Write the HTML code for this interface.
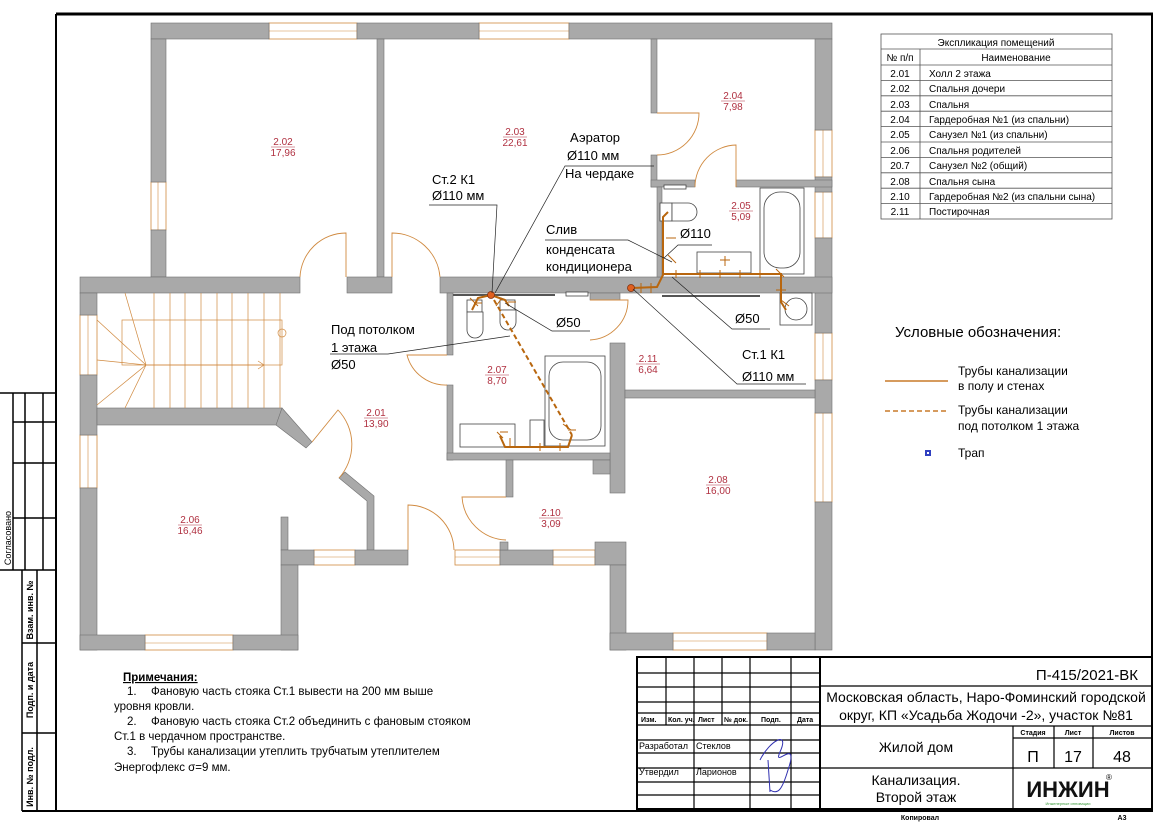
<!DOCTYPE html>
<html><head><meta charset="utf-8"><style>
html,body{margin:0;padding:0;background:#fff;}
svg{display:block;font-family:"Liberation Sans","Noto Sans CJK SC",sans-serif;}
.w{fill:#a9a9a9;stroke:#707070;stroke-width:0.6}
.win{fill:#fff;stroke:#d08a40;stroke-width:0.8}
.p{stroke:#b8660e;stroke-width:2;fill:none}
.pd{stroke:#b8660e;stroke-width:2;fill:none;stroke-dasharray:5,3}
.o{stroke:#d08a40;stroke-width:0.9;fill:none}
.fx{stroke:#444;stroke-width:0.8;fill:#fff}
.ld{stroke:#222;stroke-width:0.7;fill:none}
.r{fill:#b03040;font-size:10px;text-anchor:middle}
.a{font-size:13px;fill:#000}
.t{font-size:10px;fill:#000}
.b{stroke:#000;fill:none}
</style></head><body>
<svg width="1166" height="824" viewBox="0 0 1166 824" xmlns="http://www.w3.org/2000/svg">
<line x1="56" y1="14" x2="1153" y2="14" stroke="#000" stroke-width="3"/>
<line x1="56" y1="14" x2="56" y2="812" stroke="#000" stroke-width="2"/>
<line x1="1152" y1="14" x2="1152" y2="812" stroke="#000" stroke-width="2"/>
<line x1="22" y1="811" x2="1153" y2="811" stroke="#000" stroke-width="2"/>
<g class="b" stroke-width="1.5">
<line x1="0" y1="393" x2="56" y2="393"/>
<line x1="13" y1="393" x2="13" y2="570"/>
<line x1="25" y1="393" x2="25" y2="570"/>
<line x1="43" y1="393" x2="43" y2="570"/>
<line x1="13" y1="422" x2="56" y2="422"/>
<line x1="13" y1="463" x2="56" y2="463"/>
<line x1="13" y1="518" x2="56" y2="518"/>
<line x1="0" y1="570" x2="56" y2="570"/>
<line x1="22" y1="570" x2="22" y2="811"/>
<line x1="37" y1="570" x2="37" y2="811"/>
<line x1="22" y1="643" x2="56" y2="643"/>
<line x1="22" y1="733" x2="56" y2="733"/>
</g>
<text transform="translate(11,538) rotate(-90)" font-size="9" text-anchor="middle">Согласовано</text>
<text transform="translate(33,610) rotate(-90)" font-size="9" text-anchor="middle" font-weight="bold">Взам. инв. №</text>
<text transform="translate(33,690) rotate(-90)" font-size="9" text-anchor="middle" font-weight="bold">Подп. и дата</text>
<text transform="translate(33,777) rotate(-90)" font-size="9" text-anchor="middle" font-weight="bold">Инв. № подл.</text>

<g class="win">
<rect x="269" y="23" width="88" height="16"/><rect x="479" y="23" width="90" height="16"/>
<rect x="815" y="130" width="17" height="47"/><rect x="815" y="192" width="17" height="46"/>
<rect x="815" y="333" width="17" height="47"/><rect x="815" y="413" width="17" height="89"/>
<rect x="151" y="182" width="15" height="48"/>
<rect x="80" y="315" width="17" height="60"/><rect x="80" y="435" width="17" height="53"/>
<rect x="145" y="635" width="88" height="15"/><rect x="314" y="550" width="41" height="15"/>
<rect x="455" y="550" width="45" height="15"/><rect x="553" y="550" width="42" height="15"/>
<rect x="673" y="633" width="94" height="17"/>
</g>
<g stroke="#d08a40" stroke-width="0.6">
<line x1="269" y1="31" x2="357" y2="31"/><line x1="479" y1="31" x2="569" y2="31"/>
<line x1="145" y1="643" x2="233" y2="643"/><line x1="673" y1="641" x2="767" y2="641"/>
<line x1="823" y1="413" x2="823" y2="502"/><line x1="823" y1="333" x2="823" y2="380"/>
<line x1="823" y1="130" x2="823" y2="177"/><line x1="823" y1="192" x2="823" y2="238"/>
<line x1="88" y1="315" x2="88" y2="375"/><line x1="88" y1="435" x2="88" y2="488"/>
<line x1="158" y1="182" x2="158" y2="230"/>
<line x1="455" y1="557" x2="500" y2="557"/><line x1="553" y1="557" x2="595" y2="557"/><line x1="314" y1="557" x2="355" y2="557"/>
</g>

<g class="w">
<rect x="151" y="23" width="118" height="16"/><rect x="357" y="23" width="122" height="16"/><rect x="569" y="23" width="263" height="16"/>
<rect x="815" y="39" width="17" height="91"/><rect x="815" y="177" width="17" height="15"/><rect x="815" y="238" width="17" height="95"/>
<rect x="815" y="380" width="17" height="33"/><rect x="815" y="502" width="17" height="148"/>
<rect x="151" y="39" width="15" height="143"/><rect x="151" y="230" width="15" height="47"/>
<rect x="377" y="39" width="7" height="238"/>
<rect x="80" y="277" width="220" height="16"/><rect x="347" y="277" width="45" height="16"/><rect x="440" y="277" width="392" height="16"/>
<rect x="651" y="39" width="6" height="74"/><rect x="651" y="155" width="6" height="32"/>
<rect x="651" y="180" width="44" height="7"/><rect x="736" y="180" width="96" height="7"/>
<rect x="657" y="187" width="5" height="90"/>
<rect x="80" y="293" width="17" height="22"/><rect x="80" y="375" width="17" height="60"/><rect x="80" y="488" width="17" height="162"/>
<rect x="97" y="408" width="185" height="17"/>
<polygon points="282,408 312,442 306,448 276,425"/>
<polygon points="339,478 345,472 374,496 374,550 367,550 367,501"/>
<rect x="355" y="550" width="53" height="15"/>
<rect x="281" y="517" width="7" height="33"/><rect x="281" y="550" width="33" height="15"/><rect x="281" y="565" width="17" height="85"/>
<rect x="80" y="635" width="65" height="15"/><rect x="233" y="635" width="65" height="15"/>
<rect x="500" y="550" width="53" height="15"/><rect x="500" y="542" width="8" height="8"/>
<rect x="595" y="542" width="31" height="23"/><rect x="610" y="565" width="16" height="85"/>
<rect x="610" y="633" width="63" height="17"/><rect x="767" y="633" width="48" height="17"/>
<rect x="610" y="343" width="15" height="150"/><rect x="625" y="390" width="190" height="8"/>
<rect x="447" y="293" width="6" height="62"/><rect x="447" y="385" width="6" height="75"/>
<rect x="447" y="453" width="163" height="7"/><rect x="506" y="460" width="7" height="37"/>
<rect x="593" y="460" width="17" height="14"/>
<rect x="590" y="293" width="30" height="7"/>
</g>

<g class="o">
<path d="M346,277 L346,233 A46,46 0 0 0 300,277"/>
<path d="M392,277 L392,233 A48,48 0 0 1 440,277"/>
<path d="M657,113 L699,113 A42,42 0 0 1 657,155"/>
<path d="M736,187 L736,145 A42,42 0 0 0 695,187"/>
<path d="M447,355 L407,355 A40,40 0 0 0 447,385"/>
<path d="M590,300 L628,300 A40,40 0 0 1 590,340"/>
<path d="M312,442 L338,410 A50,50 0 0 1 339,478"/>
<path d="M408,550 L408,505 A46,46 0 0 1 454,550"/>
<path d="M506,497 L462,497 A46,46 0 0 0 506,540"/>
</g>

<g stroke="#d08a40" stroke-width="0.7" fill="none">
<rect x="122" y="320" width="160" height="45"/>
<line x1="97" y1="320" x2="146" y2="365"/><line x1="97" y1="405" x2="146" y2="365"/><line x1="97" y1="360" x2="146" y2="365"/>
<line x1="125" y1="293" x2="146" y2="365"/><line x1="125" y1="408" x2="146" y2="365"/>
<path d="M154,293V408M170,293V408M185,293V408M201,293V408M217,293V408M232,293V408M248,293V408M264,293V408M280,293V408"/>
<circle cx="282" cy="333" r="4"/><line x1="146" y1="365" x2="263" y2="365"/><path d="M258,361 L264,365 L258,369"/>
</g>

<g class="fx">
<rect x="467" y="300" width="15" height="12"/><path d="M467,312 L467,330 A8,8 0 0 0 483,330 L483,312 Z"/>
<rect x="500" y="300" width="15" height="10"/><path d="M500,310 L500,322 A8,8 0 0 0 516,322 L516,310 Z"/>
<rect x="545" y="356" width="60" height="90"/><rect x="549" y="362" width="52" height="78" rx="14"/>
<rect x="460" y="424" width="55" height="23"/><rect x="530" y="420" width="14" height="27"/>
<rect x="760" y="188" width="44" height="86"/><rect x="764" y="192" width="36" height="76" rx="16"/>
<rect x="697" y="252" width="54" height="21"/>
<rect x="660" y="203" width="12" height="18"/><path d="M672,203 L688,203 A9,9 0 0 1 688,221 L672,221 Z"/>
<rect x="780" y="293" width="32" height="32"/><circle cx="796" cy="309" r="11"/>
<rect x="664" y="185" width="22" height="4"/><rect x="566" y="292" width="22" height="4"/>
</g>
<line x1="453" y1="295" x2="555" y2="295" stroke="#555" stroke-width="2"/>
<line x1="662" y1="296" x2="760" y2="296" stroke="#555" stroke-width="2"/>

<g class="p">
<path d="M631,288 L657,287 L663,275 L663,217 L668,212"/>
<path d="M663,274 L781,274 L781,302 L786,310"/>
<path d="M491,295 L478,298 L472,310"/><path d="M491,295 L505,300 L509,306"/>
<path d="M500,436 L505,447 L568,447 L572,435"/>
</g>
<path class="pd" d="M494,300 L572,435"/>
<g stroke="#b8660e" stroke-width="1" fill="none">
<path d="M641,283v10M651,283v10M666,238h10M668,255l8,8M676,270v8M700,270v8M720,270v8M740,270v8M760,270v8M776,269l8,8M776,290h10M781,300l8,6M720,260h10M725,256v10"/>
<path d="M470,298l8,8M474,303h8M502,298l-6,8M508,302h8M563,424l8,6M568,430h8M510,438v10M540,443v8M560,443v8M497,432l6,6M500,432h8"/>
</g>
<circle cx="491" cy="295" r="3.5" fill="#e06020" stroke="#803010" stroke-width="0.8"/>
<circle cx="631" cy="288" r="3.5" fill="#e06020" stroke="#803010" stroke-width="0.8"/>

<g class="r">
<text x="283" y="145">2.02</text><text x="283" y="156">17,96</text><line x1="271" y1="147" x2="295" y2="147" stroke="#b03040" stroke-width="0.6"/>
<text x="515" y="135">2.03</text><text x="515" y="146">22,61</text><line x1="503" y1="137" x2="527" y2="137" stroke="#b03040" stroke-width="0.6"/>
<text x="733" y="99">2.04</text><text x="733" y="110">7,98</text><line x1="721" y1="101" x2="745" y2="101" stroke="#b03040" stroke-width="0.6"/>
<text x="741" y="209">2.05</text><text x="741" y="220">5,09</text><line x1="729" y1="211" x2="753" y2="211" stroke="#b03040" stroke-width="0.6"/>
<text x="497" y="373">2.07</text><text x="497" y="384">8,70</text><line x1="485" y1="375" x2="509" y2="375" stroke="#b03040" stroke-width="0.6"/>
<text x="648" y="362">2.11</text><text x="648" y="373">6,64</text><line x1="636" y1="364" x2="660" y2="364" stroke="#b03040" stroke-width="0.6"/>
<text x="376" y="416">2.01</text><text x="376" y="427">13,90</text><line x1="364" y1="418" x2="388" y2="418" stroke="#b03040" stroke-width="0.6"/>
<text x="190" y="523">2.06</text><text x="190" y="534">16,46</text><line x1="178" y1="525" x2="202" y2="525" stroke="#b03040" stroke-width="0.6"/>
<text x="551" y="516">2.10</text><text x="551" y="527">3,09</text><line x1="539" y1="518" x2="563" y2="518" stroke="#b03040" stroke-width="0.6"/>
<text x="718" y="483">2.08</text><text x="718" y="494">16,00</text><line x1="706" y1="485" x2="730" y2="485" stroke="#b03040" stroke-width="0.6"/>
</g>

<g class="a">
<text x="570" y="142">Аэратор</text><text x="567" y="160">Ø110 мм</text><text x="565" y="178">На чердаке</text>
<text x="432" y="184">Ст.2  К1</text><text x="432" y="200">Ø110 мм</text>
<text x="546" y="234">Слив</text><text x="546" y="254">конденсата</text><text x="546" y="271">кондиционера</text>
<text x="680" y="238">Ø110</text>
<text x="556" y="327">Ø50</text><text x="735" y="323">Ø50</text>
<text x="331" y="334">Под потолком</text><text x="331" y="352">1 этажа</text><text x="331" y="369">Ø50</text>
<text x="742" y="359">Ст.1   К1</text><text x="742" y="381">Ø110 мм</text>
</g>
<g class="ld">
<path d="M654,166 L565,166 L495,293"/>
<path d="M429,205 L497,205 L492,293"/>
<path d="M545,240 L628,240 L672,262"/>
<path d="M712,245 L678,245 L664,258"/>
<path d="M590,331 L552,331 L505,303"/>
<path d="M770,329 L732,329 L672,277"/>
<path d="M330,354 L388,354 L510,336"/>
<path d="M806,384 L737,384 L633,289"/>
</g>

<g stroke="#555" stroke-width="0.8" fill="none">
<rect x="881" y="34" width="231" height="185"/>
<line x1="881" y1="49" x2="1112" y2="49"/><line x1="881" y1="65" x2="1112" y2="65"/>
<path d="M881,80.4H1112M881,95.8H1112M881,111.2H1112M881,126.6H1112M881,142H1112M881,157.4H1112M881,172.8H1112M881,188.2H1112M881,203.6H1112"/>
<line x1="920" y1="49" x2="920" y2="219"/>
</g>
<g class="t" fill="#222">
<text x="996" y="46" text-anchor="middle">Экспликация помещений</text>
<text x="900" y="61" text-anchor="middle">№ п/п</text><text x="1016" y="61" text-anchor="middle">Наименование</text>
<g text-anchor="middle"><text x="900" y="77">2.01</text><text x="900" y="92">2.02</text><text x="900" y="108">2.03</text><text x="900" y="123">2.04</text><text x="900" y="138">2.05</text><text x="900" y="154">2.06</text><text x="900" y="169">20.7</text><text x="900" y="185">2.08</text><text x="900" y="200">2.10</text><text x="900" y="215">2.11</text></g>
<text x="929" y="77">Холл 2 этажа</text><text x="929" y="92">Спальня дочери</text><text x="929" y="108">Спальня</text><text x="929" y="123">Гардеробная №1 (из спальни)</text><text x="929" y="138">Санузел №1 (из спальни)</text><text x="929" y="154">Спальня родителей</text><text x="929" y="169">Санузел №2 (общий)</text><text x="929" y="185">Спальня сына</text><text x="929" y="200">Гардеробная №2 (из спальни сына)</text><text x="929" y="215">Постирочная</text>
</g>

<text x="895" y="337" font-size="15">Условные обозначения:</text>
<line x1="885" y1="381" x2="948" y2="381" stroke="#c87a28" stroke-width="1.5"/>
<line x1="885" y1="411" x2="948" y2="411" stroke="#c87a28" stroke-width="1.5" stroke-dasharray="5,3"/>
<g font-size="12"><text x="958" y="375">Трубы канализации</text><text x="958" y="390">в полу и стенах</text>
<text x="958" y="414">Трубы канализации</text><text x="958" y="430">под потолком 1 этажа</text>
<text x="958" y="457">Трап</text></g>
<rect x="925" y="450" width="6" height="6" fill="#3040c0"/><rect x="927" y="452" width="2" height="2" fill="#fff"/>

<g font-size="11.5">
<text x="123" y="681" font-weight="bold" text-decoration="underline">Примечания:</text>
<text x="127" y="695">1.</text><text x="151" y="695">Фановую часть стояка Ст.1 вывести на 200 мм выше</text>
<text x="114" y="710">уровня кровли.</text>
<text x="127" y="725">2.</text><text x="151" y="725">Фановую часть стояка Ст.2 объединить с фановым стояком</text>
<text x="114" y="740">Ст.1 в чердачном пространстве.</text>
<text x="127" y="755">3.</text><text x="151" y="755">Трубы канализации утеплить трубчатым утеплителем</text>
<text x="114" y="771">Энергофлекс σ=9 мм.</text>
</g>

<g stroke="#000" fill="none">
<rect x="637" y="657" width="515" height="152" stroke-width="2"/>
<line x1="820" y1="657" x2="820" y2="809" stroke-width="2"/>
<g stroke-width="1.2">
<path d="M666,657V725M694,657V809M722,657V725M750,657V809M791,657V809"/>
<path d="M637,673H820M637,687H820M637,702H820M637,713H820M637,725H820M637,740H820M637,753H820M637,768H820M637,782H820M637,795H820"/>
<path d="M820,686H1152M820,726H1152M1013,738H1152M820,768H1152M1013,726V809M1054,726V768M1093,726V768"/>
</g></g>
<g font-size="7" font-weight="bold"><text x="641" y="722">Изм.</text><text x="668" y="722">Кол. уч.</text><text x="698" y="722">Лист</text><text x="724" y="722">№ док.</text><text x="761" y="722">Подп.</text><text x="797" y="722">Дата</text>
<text x="1033" y="735" text-anchor="middle">Стадия</text><text x="1073" y="735" text-anchor="middle">Лист</text><text x="1122" y="735" text-anchor="middle">Листов</text>
<text x="920" y="820" text-anchor="middle">Копировал</text><text x="1122" y="820" text-anchor="middle">А3</text></g>
<g font-size="9"><text x="639" y="749">Разработал</text><text x="696" y="749">Стеклов</text><text x="639" y="775">Утвердил</text><text x="696" y="775">Ларионов</text></g>
<path d="M760,760 C770,740 790,730 780,752 C772,770 800,735 788,770 C782,790 778,795 770,790 M768,760 L770,792" stroke="#3030b0" fill="none" stroke-width="1"/>
<g font-size="14" text-anchor="middle">
<text x="1138" y="680" text-anchor="end" font-size="15">П-415/2021-ВК</text>
<text x="986" y="702">Московская область, Наро-Фоминский городской</text>
<text x="986" y="720">округ, КП «Усадьба Жодочи -2», участок №81</text>
<text x="916" y="752">Жилой дом</text>
<text x="1033" y="762" font-size="16">П</text><text x="1073" y="762" font-size="16">17</text><text x="1122" y="762" font-size="16">48</text>
<text x="916" y="785">Канализация.</text><text x="916" y="802">Второй этаж</text>
</g>
<text x="1068" y="797" font-size="22" font-weight="bold" text-anchor="middle" fill="#111">ИНЖИН</text>
<text x="1068" y="805" font-size="4" text-anchor="middle" fill="#3a9a3a">Инженерные инновации</text>
<text x="1106" y="780" font-size="8">®</text>
</svg>
</body></html>
